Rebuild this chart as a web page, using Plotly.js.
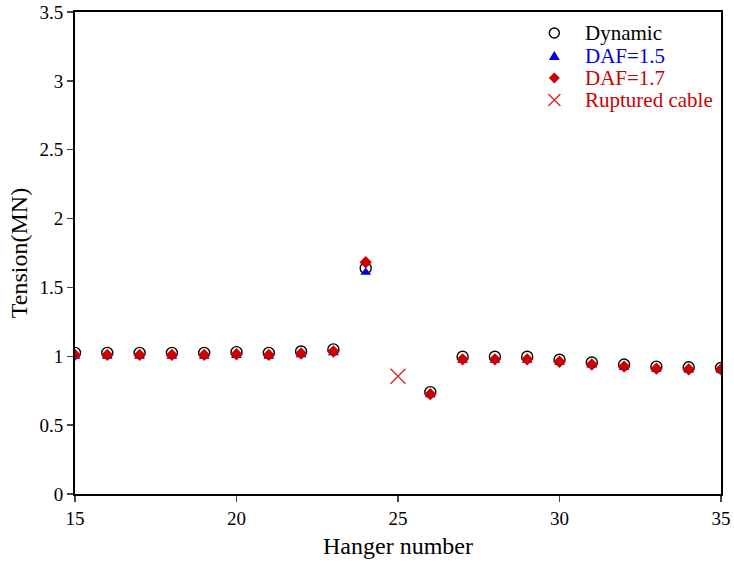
<!DOCTYPE html>
<html>
<head>
<meta charset="utf-8">
<script src="https://cdn.plot.ly/plotly-3.0.1.min.js"></script>
<style>html,body{margin:0;padding:0;background:#fff;}#chart{width:734px;height:566px;}</style>
</head>
<body>
<div id="chart"></div>
<script>
// Hanger numbers (intact hangers)
const hangers = [15,16,17,18,19,20,21,22,23,24,26,27,28,29,30,31,32,33,34,35];
const dynamicT = [1.025,1.025,1.025,1.025,1.025,1.03,1.025,1.035,1.05,1.64,0.74,0.997,0.997,0.997,0.975,0.955,0.94,0.925,0.92,0.915];
const daf15T  = [1.0,1.0,1.0,1.0,1.0,1.005,1.0,1.01,1.025,1.61,0.72,0.97,0.97,0.97,0.955,0.935,0.92,0.905,0.9,0.9];
const daf17T  = [1.01,1.01,1.01,1.01,1.01,1.015,1.01,1.02,1.035,1.683,0.725,0.978,0.978,0.978,0.96,0.94,0.925,0.91,0.905,0.905];
const rupturedHanger = [25];
const rupturedT = [0.855];
const xTicks = [15,20,25,30,35];
const yTicks = [0,0.5,1,1.5,2,2.5,3,3.5];
const yTickText = ['0','0.5','1','1.5','2','2.5','3','3.5'];
const legendLabels = ['Dynamic','DAF=1.5','DAF=1.7','Ruptured cable'];
const legendColors = ['#000000','#0000dd','#cc0000','#cc0000'];

const font = 'Liberation Serif, Times New Roman, serif';

const traces = [
  {x: hangers, y: dynamicT, type: 'scatter', mode: 'markers', name: legendLabels[0],
   marker: {symbol: 'circle-open', size: 11, color: '#000', line: {width: 1.4, color: '#000'}}},
  {x: hangers, y: daf15T, type: 'scatter', mode: 'markers', name: legendLabels[1],
   marker: {symbol: 'triangle-up', size: 9.5, color: '#0000dd'}},
  {x: hangers, y: daf17T, type: 'scatter', mode: 'markers', name: legendLabels[2],
   marker: {symbol: 'diamond', size: 9.5, color: '#cc0000'}},
  {x: rupturedHanger, y: rupturedT, type: 'scatter', mode: 'markers', name: legendLabels[3],
   marker: {symbol: 'x-thin-open', size: 15, color: '#dd2222', line: {width: 1.3, color: '#dd2222'}}}
];

// Custom legend (annotations + pixel-sized symbols), rows 22px apart
const legX = 0.742, textX = 0.7864;
const rowY = [0.9564, 0.9087, 0.8631, 0.8174];
const annotations = legendLabels.map((t, i) => ({
  xref: 'paper', yref: 'paper', x: textX, y: rowY[i], xanchor: 'left', yanchor: 'middle',
  text: t, showarrow: false, font: {family: font, size: 21, color: legendColors[i]}
}));
const base = {xref: 'paper', yref: 'paper', xsizemode: 'pixel', ysizemode: 'pixel', xanchor: legX};
const shapes = [
  Object.assign({}, base, {type: 'circle', yanchor: rowY[0], x0: -5, x1: 5, y0: -5, y1: 5,
    line: {color: '#000', width: 1.4}}),
  Object.assign({}, base, {type: 'path', yanchor: rowY[1], path: 'M-5.5,-4 L5.5,-4 L0,5 Z',
    fillcolor: '#0000dd', line: {width: 0}}),
  Object.assign({}, base, {type: 'path', yanchor: rowY[2], path: 'M0,-5.5 L5.5,0 L0,5.5 L-5.5,0 Z',
    fillcolor: '#cc0000', line: {width: 0}}),
  Object.assign({}, base, {type: 'path', yanchor: rowY[3], path: 'M-6,-6 L6,6 M-6,6 L6,-6',
    line: {color: '#dd2222', width: 1.3}})
];

const layout = {
  width: 734, height: 566,
  margin: {l: 75, r: 13, t: 12, b: 72},
  paper_bgcolor: '#fff', plot_bgcolor: '#fff',
  font: {family: font, size: 19, color: '#000'},
  showlegend: false,
  annotations: annotations,
  shapes: shapes,
  xaxis: {range: [15, 35], tickvals: xTicks, ticks: 'outside', ticklen: 6, tickwidth: 1.5,
          showline: true, linewidth: 2, linecolor: '#000', mirror: true, showgrid: false, zeroline: false,
          tickfont: {family: font, size: 19},
          title: {text: 'Hanger number', font: {family: font, size: 24}, standoff: 9}},
  yaxis: {range: [0, 3.5], tickvals: yTicks, ticktext: yTickText,
          ticks: 'outside', ticklen: 6, tickwidth: 1.5,
          showline: true, linewidth: 2, linecolor: '#000', mirror: true, showgrid: false, zeroline: false,
          tickfont: {family: font, size: 19},
          title: {text: 'Tension(MN)', font: {family: font, size: 24}, standoff: 5}}
};

Plotly.newPlot('chart', traces, layout, {displayModeBar: false, staticPlot: true});
</script>
</body>
</html>
